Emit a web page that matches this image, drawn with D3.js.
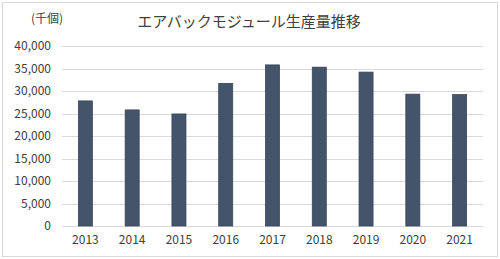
<!DOCTYPE html>
<html>
<head>
<meta charset="utf-8">
<script src="https://cdn.jsdelivr.net/npm/d3@7"></script>
<style>
  body { margin: 0; background: #fff; }
  text { font-family: "Noto Sans CJK JP", "Noto Sans", sans-serif; }
</style>
</head>
<body>
<div id="chart"></div>
<script>
const years = ["2013", "2014", "2015", "2016", "2017", "2018", "2019", "2020", "2021"];
const production = [27800, 25800, 24900, 31700, 35800, 35300, 34200, 29300, 29200];
const yTicks = [0, 5000, 10000, 15000, 20000, 25000, 30000, 35000, 40000];
const title = "エアバックモジュール生産量推移";
const unitLabel = "(千個)";

const W = 500, H = 259;
const margin = { top: 46, right: 17, bottom: 33, left: 62 };
const width = W - margin.left - margin.right,
      height = H - margin.top - margin.bottom;

const svg = d3.select("#chart").append("svg")
    .attr("width", W)
    .attr("height", H);

// outer frame
svg.append("rect")
    .attr("x", 2.5).attr("y", 2.5)
    .attr("width", W - 5).attr("height", H - 5)
    .attr("fill", "#fff")
    .attr("stroke", "#d9d9d9");

svg.append("text")
    .attr("x", 249).attr("y", 27)
    .attr("text-anchor", "middle")
    .attr("font-size", 15)
    .attr("fill", "#404040")
    .text(title);

svg.append("text")
    .attr("x", 47).attr("y", 23)
    .attr("text-anchor", "middle")
    .attr("font-size", 12)
    .attr("fill", "#404040")
    .text(unitLabel);

const g = svg.append("g")
    .attr("transform", `translate(${margin.left},${margin.top})`);

const xScale = d3.scaleBand().domain(years).range([0, width]).paddingInner(0.7).paddingOuter(0.35);
const yScale = d3.scaleLinear().domain([0, 40000]).range([height, 0]);

// gridlines
g.append("g")
    .selectAll("line")
    .data(yTicks)
    .join("line")
    .attr("x1", 0).attr("x2", width)
    .attr("y1", d => Math.round(yScale(d)) + 0.5)
    .attr("y2", d => Math.round(yScale(d)) + 0.5)
    .attr("stroke", "#d9d9d9");

// bars
g.append("g")
    .selectAll("rect")
    .data(production)
    .join("rect")
    .attr("x", (d, i) => xScale(years[i]))
    .attr("y", d => yScale(d))
    .attr("width", xScale.bandwidth())
    .attr("height", d => height - yScale(d))
    .attr("fill", "#44546a")
    .attr("stroke", "#34425a")
    .attr("stroke-width", 0.75);

const yAxis = d3.axisLeft(yScale)
    .tickValues(yTicks)
    .tickSize(0)
    .tickPadding(11)
    .tickFormat(d3.format(","));

const xAxis = d3.axisBottom(xScale)
    .tickSize(0)
    .tickPadding(9);

g.append("g")
    .attr("class", "axis y-axis")
    .call(yAxis)
    .call(a => a.select(".domain").remove())
    .selectAll("text")
    .attr("font-size", 12)
    .attr("fill", "#404040");

g.append("g")
    .attr("class", "axis x-axis")
    .attr("transform", `translate(0,${height})`)
    .call(xAxis)
    .call(a => a.select(".domain").remove())
    .selectAll("text")
    .attr("font-size", 12)
    .attr("fill", "#404040");
</script>
</body>
</html>
